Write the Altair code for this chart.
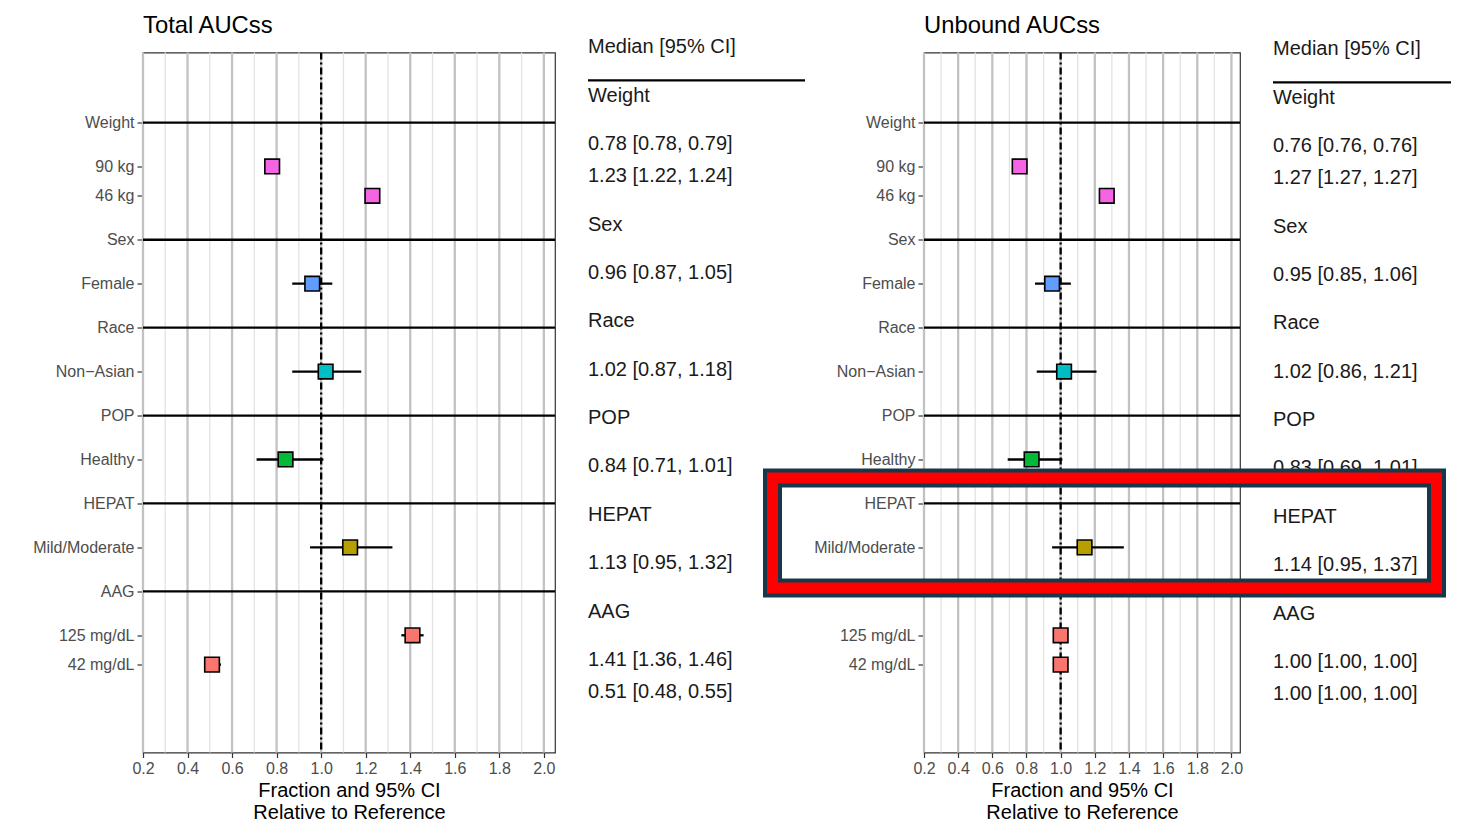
import altair as alt
import pandas as pd

# ---------------- data ----------------
GROUPS = ["Weight", "Sex", "Race", "POP", "HEPAT", "AAG"]
LEVELS = [["90 kg", "46 kg"], ["Female"], ["Non\u2212Asian"], ["Healthy"],
          ["Mild/Moderate"], ["125 mg/dL", "42 mg/dL"]]
COLORS = ["#F564E3", "#619CFF", "#00BFC4", "#00BA38", "#B79F00", "#F8766D"]

TOTAL_MED = [0.78, 1.23, 0.96, 1.02, 0.84, 1.13, 1.41, 0.51]
TOTAL_LO = [0.78, 1.22, 0.87, 0.87, 0.71, 0.95, 1.36, 0.48]
TOTAL_HI = [0.79, 1.24, 1.05, 1.18, 1.01, 1.32, 1.46, 0.55]

UNBOUND_MED = [0.76, 1.27, 0.95, 1.02, 0.83, 1.14, 1.00, 1.00]
UNBOUND_LO = [0.76, 1.27, 0.85, 0.86, 0.69, 0.95, 1.00, 1.00]
UNBOUND_HI = [0.76, 1.27, 1.06, 1.21, 1.01, 1.37, 1.00, 1.00]

X_TICKS = [0.2, 0.4, 0.6, 0.8, 1.0, 1.2, 1.4, 1.6, 1.8, 2.0]
X_MINOR = [0.3, 0.5, 0.7, 0.9, 1.1, 1.3, 1.5, 1.7, 1.9]
REF = [1.0]

TITLES = ["Total AUCss", "Unbound AUCss"]
TABLE_HEAD = "Median [95% CI]"
X_TITLE = ["Fraction and 95% CI", "Relative to Reference"]

FONT = "Liberation Sans"


# ---------------- row structure ----------------
def build_rows():
    headers, items = [], []
    r = 0.0
    for gi, (g, levs) in enumerate(zip(GROUPS, LEVELS)):
        if gi > 0:
            r += 1.5
        headers.append({"label": g, "row": r, "group": g})
        r += 1.5
        for j, lev in enumerate(levs):
            if j > 0:
                r += 1.0
            items.append({"label": lev, "row": r, "group": g})
    return headers, items


HEADERS, ITEMS = build_rows()
ALL_ROWS = sorted(HEADERS + ITEMS, key=lambda d: d["row"])

label_expr = ""
for d in ALL_ROWS:
    label_expr += f"abs(datum.value - {d['row']}) < 0.01 ? '{d['label']}' : "
label_expr += "''"

PLOT_H = 700
XSCALE = alt.Scale(domain=[0.2, 2.05], nice=False, zero=False)
YSCALE = alt.Scale(domain=[-2.39, 21.5], reverse=True, nice=False, zero=False)
color_scale = alt.Scale(domain=GROUPS, range=COLORS)


def forest(title, med, lo, hi, width):
    hdr = pd.DataFrame(HEADERS)
    df = pd.DataFrame(ITEMS)
    df["med"] = med
    df["lo"] = lo
    df["hi"] = hi

    xaxis = alt.Axis(values=X_TICKS, tickCount=len(X_TICKS), format=".1f",
                     grid=False, domain=False,
                     tickColor="#333333", tickSize=5, tickWidth=1.2,
                     labelColor="#4d4d4d", labelFontSize=16, labelPadding=3,
                     labelFlush=False, labelOverlap=False,
                     title=X_TITLE, titleFontSize=20, titleFontWeight="normal",
                     titleColor="black", titlePadding=4)
    yaxis = alt.Axis(values=[d["row"] for d in ALL_ROWS], tickCount=len(ALL_ROWS),
                     labelExpr=label_expr,
                     grid=False, domain=False, tickColor="#333333", tickSize=6,
                     tickWidth=1.2, labelColor="#4d4d4d", labelFontSize=16,
                     labelPadding=3, labelOverlap=False, title=None)

    minor = alt.Chart(pd.DataFrame({"x": X_MINOR})).mark_rule(
        color="#e3e3e3", strokeWidth=1.3).encode(
        x=alt.X("x:Q", scale=XSCALE, axis=xaxis))
    major = alt.Chart(pd.DataFrame({"x": X_TICKS})).mark_rule(
        color="#c2c2c2", strokeWidth=2.3).encode(
        x=alt.X("x:Q", scale=XSCALE))
    hlines = alt.Chart(hdr).mark_rule(color="black", strokeWidth=2.3).encode(
        y=alt.Y("row:Q", scale=YSCALE, axis=yaxis))
    ref = alt.Chart(pd.DataFrame({"x": REF})).mark_rule(
        color="black", strokeWidth=2.3, strokeDash=[7, 3, 2, 3]).encode(
        x=alt.X("x:Q", scale=XSCALE))
    bars = alt.Chart(df).mark_rule(color="black", strokeWidth=2.3).encode(
        x=alt.X("lo:Q", scale=XSCALE), x2="hi:Q",
        y=alt.Y("row:Q", scale=YSCALE))
    pts = alt.Chart(df).mark_square(size=215, stroke="black", strokeWidth=1.6,
                                    opacity=1).encode(
        x=alt.X("med:Q", scale=XSCALE),
        y=alt.Y("row:Q", scale=YSCALE),
        fill=alt.Fill("group:N", scale=color_scale, legend=None))

    return alt.layer(minor, major, hlines, ref, bars, pts).properties(
        width=width, height=PLOT_H,
        title=alt.TitleParams(title, anchor="start", frame="group", fontSize=23.8,
                              fontWeight="normal", color="black", offset=13.5),
        view=alt.ViewBackground(stroke="#333333", strokeWidth=1.2))


def table(med, lo, hi, width, line_w, top_px, extra=None):
    rows = [{"txt": TABLE_HEAD, "row": -1.5}]
    for h in HEADERS:
        rows.append({"txt": h["label"], "row": h["row"]})
    for it, m, l, h in zip(ITEMS, med, lo, hi):
        rows.append({"txt": f"{m:.2f} [{l:.2f}, {h:.2f}]", "row": it["row"]})
    tdf = pd.DataFrame(rows)
    unit = 32.25
    tscale = alt.Scale(domain=[-top_px / unit, (PLOT_H - top_px) / unit],
                       reverse=True, nice=False, zero=False)
    txt = alt.Chart(tdf).mark_text(align="left", baseline="middle", fontSize=20,
                                   color="#1a1a1a").encode(
        x=alt.value(0), y=alt.Y("row:Q", scale=tscale, axis=None), text="txt:N")
    line = alt.Chart(pd.DataFrame({"row": [-0.47]})).mark_rule(
        color="black", strokeWidth=2.3).encode(
        x=alt.value(0), x2=alt.value(line_w),
        y=alt.Y("row:Q", scale=tscale, axis=None))
    layers = [txt, line] + (extra or [])
    return alt.layer(*layers).properties(
        width=width, height=PLOT_H,
        view=alt.ViewBackground(stroke="transparent"))


# highlight box (annotation overlay, placed relative to the right table)
box_df = pd.DataFrame({"k": [0]})
box_dark = alt.Chart(box_df).mark_rect(fill="transparent", stroke="#17384a",
                                       strokeWidth=19).encode(
    x=alt.value(-500.5), x2=alt.value(163.5), y=alt.value(425.5), y2=alt.value(535.5))
box_red = alt.Chart(box_df).mark_rect(fill="transparent", stroke="#ff0000",
                                      strokeWidth=11).encode(
    x=alt.value(-500.5), x2=alt.value(163.5), y=alt.value(425.5), y2=alt.value(535.5))

left_plot = forest(TITLES[0], TOTAL_MED, TOTAL_LO, TOTAL_HI, 412)
left_table = table(TOTAL_MED, TOTAL_LO, TOTAL_HI, 303, 217, 43)
right_plot = forest(TITLES[1], UNBOUND_MED, UNBOUND_LO, UNBOUND_HI, 316)
right_table = table(UNBOUND_MED, UNBOUND_LO, UNBOUND_HI, 150, 178, 45,
                    extra=[box_dark, box_red])

chart = alt.hconcat(left_plot, left_table, right_plot, right_table,
                    spacing=33, bounds="flush").properties(
    padding={"left": 24, "top": 4.5, "right": 0, "bottom": 0}
).configure(font=FONT).configure_view(stroke="transparent")

chart.save("out.html", embed_options={"renderer": "svg", "actions": False})
